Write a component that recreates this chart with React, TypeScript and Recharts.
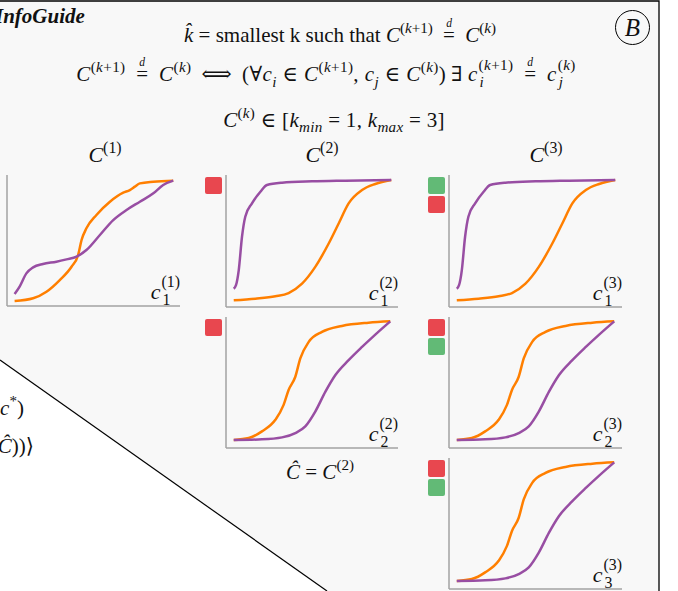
import React from 'react';
import { LineChart, Line, XAxis, YAxis } from 'recharts';

// positions along each axis are on a 0-100 scale (x: value, y: cumulative share)
const c1OrangeX = [4.4, 15.1, 22.8, 30.5, 37.3, 41.1, 43.1, 45.9, 51.7, 59.5, 67.2, 71.0, 73.9, 76.8, 84.6, 96.1];
const c1OrangeY = [3.8, 5.9, 10.9, 19.8, 30.0, 38.9, 50.4, 59.3, 69.5, 79.6, 86.5, 88.5, 91.1, 93.6, 94.9, 95.7];
const c1PurpleX = [4.4, 7.3, 11.2, 15.1, 20.8, 28.6, 34.4, 40.2, 45.9, 53.7, 61.4, 69.1, 76.8, 84.6, 90.3, 96.1];
const c1PurpleY = [9.2, 14.8, 24.9, 29.5, 32.1, 33.8, 35.6, 37.7, 42.7, 54.2, 65.6, 73.3, 79.6, 86.0, 92.4, 95.7];

// first cluster when k >= 2: far apart
const splitOrangeX = [4.5, 17.1, 28.7, 36.4, 44.2, 51.9, 59.7, 65.5, 71.3, 79.1, 86.8, 96.1];
const splitOrangeY = [5.1, 6.3, 8.1, 10.6, 17.7, 30.4, 48.1, 63.3, 78.5, 88.6, 93.2, 96.2];
const splitPurpleX = [4.5, 5.8, 7.4, 9.3, 11.2, 15.1, 20.0, 23.8, 32.6, 50.0, 69.4, 96.1];
const splitPurpleY = [13.9, 16.5, 27.8, 53.2, 68.4, 78.5, 87.3, 92.4, 94.2, 95.2, 95.7, 96.2];

// remaining clusters: closer pair
const pairOrangeX = [4.5, 13.2, 20.9, 28.7, 33.5, 36.4, 40.3, 43.2, 48.1, 55.8, 67.4, 82.9, 95.5];
const pairOrangeY = [6.1, 7.6, 12.7, 21.5, 32.9, 44.3, 54.4, 68.4, 81.0, 88.6, 93.2, 95.7, 96.7];
const pairPurpleX = [4.5, 20.9, 32.6, 40.3, 46.1, 51.9, 57.8, 63.6, 71.3, 79.1, 86.8, 95.5];
const pairPurpleY = [6.1, 6.6, 8.1, 11.4, 16.5, 27.8, 43.0, 55.7, 67.1, 77.2, 86.6, 96.7];

const clusterTitles = ['1', '2', '3'];

const ORANGE = '#ff7f00';
const PURPLE = '#984ea3';
const RED = '#e8474f';
const GREEN = '#62ba76';
const AXIS = '#a3a3a3';
const PANEL = '#f8f8f8';
const FONT = '"Liberation Serif", "DejaVu Serif", serif';

const pts = (xs: number[], ys: number[]) => xs.map((x, i) => ({ x, y: ys[i] }));

const panels = [
  { left: 7, right: 180, top: 175, bottom: 306, o: pts(c1OrangeX, c1OrangeY), p: pts(c1PurpleX, c1PurpleY), sub: '1', sup: '1', marks: [] as string[] },
  { left: 226, right: 398, top: 175, bottom: 307, o: pts(splitOrangeX, splitOrangeY), p: pts(splitPurpleX, splitPurpleY), sub: '1', sup: '2', marks: [RED] },
  { left: 226, right: 398, top: 317, bottom: 448, o: pts(pairOrangeX, pairOrangeY), p: pts(pairPurpleX, pairPurpleY), sub: '2', sup: '2', marks: [RED] },
  { left: 449, right: 622, top: 175, bottom: 307, o: pts(splitOrangeX, splitOrangeY), p: pts(splitPurpleX, splitPurpleY), sub: '1', sup: '3', marks: [GREEN, RED] },
  { left: 449, right: 622, top: 317, bottom: 448, o: pts(pairOrangeX, pairOrangeY), p: pts(pairPurpleX, pairPurpleY), sub: '2', sup: '3', marks: [RED, GREEN] },
  { left: 449, right: 622, top: 458, bottom: 589, o: pts(pairOrangeX, pairOrangeY), p: pts(pairPurpleX, pairPurpleY), sub: '3', sup: '3', marks: [RED, GREEN] },
];

const Sup = ({ children }: { children: React.ReactNode }) => (
  <sup style={{ fontSize: '0.72em', verticalAlign: '0.6em', lineHeight: 0 }}>{children}</sup>
);
const Sub = ({ children }: { children: React.ReactNode }) => (
  <sub style={{ fontSize: '0.72em', verticalAlign: '-0.35em', lineHeight: 0 }}>{children}</sub>
);
const I = ({ children }: { children: React.ReactNode }) => <i>{children}</i>;

// superscript stacked over subscript, as in c_i^{(k)}
function SupSub({ sup, sub }: { sup: React.ReactNode; sub: React.ReactNode }) {
  return (
    <span style={{ display: 'inline-flex', flexDirection: 'column', alignItems: 'flex-start', fontSize: '0.72em', lineHeight: 1.15, verticalAlign: '0.75em', marginLeft: 1 }}>
      <span>{sup}</span>
      <span style={{ marginLeft: 1 }}>{sub}</span>
    </span>
  );
}

function EqD() {
  return (
    <span style={{ position: 'relative', display: 'inline-block', margin: '0 5px' }}>
      =
      <span style={{ position: 'absolute', left: '50%', top: '-0.55em', transform: 'translateX(-50%)', fontSize: '0.55em', fontStyle: 'italic' }}>d</span>
    </span>
  );
}

function Cdf({ panel }: { panel: (typeof panels)[number] }) {
  const w = panel.right - panel.left;
  const h = panel.bottom - panel.top;
  const axisLine = { stroke: AXIS, strokeWidth: 1.5 };
  return (
    <>
      <div style={{ position: 'absolute', left: panel.left - 2, top: panel.top - 2 }}>
        <LineChart width={w + 4} height={h + 4} margin={{ top: 2, right: 2, bottom: 1, left: 1 }}>
          <XAxis type="number" dataKey="x" domain={[0, 100]} height={1} tick={false} tickLine={false} axisLine={axisLine} />
          <YAxis type="number" dataKey="y" domain={[0, 100]} width={1} tick={false} tickLine={false} axisLine={axisLine} />
          <Line data={panel.o} dataKey="y" type="monotone" stroke={ORANGE} strokeWidth={2.5} dot={false} isAnimationActive={false} />
          <Line data={panel.p} dataKey="y" type="monotone" stroke={PURPLE} strokeWidth={2.5} dot={false} isAnimationActive={false} />
        </LineChart>
      </div>
      <div style={{ position: 'absolute', left: panel.right - 50, width: 50, top: panel.bottom - 33, textAlign: 'right', fontSize: 22, lineHeight: '24px', whiteSpace: 'nowrap' }}>
        <I>c</I>
        <SupSub sup={`(${panel.sup})`} sub={panel.sub} />
      </div>
      {panel.marks.map((c, i) => (
        <div key={i} style={{ position: 'absolute', left: panel.left - 21, top: panel.top + 2 + i * 19, width: 17, height: 17, borderRadius: 2, background: c }} />
      ))}
    </>
  );
}

export default function App() {
  return (
    <div style={{ position: 'absolute', left: 0, top: 0, width: 678, height: 591, overflow: 'hidden', background: '#fff', fontFamily: FONT, color: '#111' }}>
      <svg width={678} height={591} style={{ position: 'absolute', left: 0, top: 0 }}>
        <polygon points="0,1 659,1 659,591 327,591 0,360" fill={PANEL} />
        <polyline points="0,1 659,1 659,591" fill="none" stroke="#000" strokeWidth={1.3} />
        <line x1={0} y1={360} x2={327} y2={591} stroke="#000" strokeWidth={1.2} />
      </svg>

      <div style={{ position: 'absolute', left: -5, top: 4, fontSize: 21, fontWeight: 'bold', fontStyle: 'italic' }}>InfoGuide</div>

      <div style={{ position: 'absolute', left: 615, top: 10, width: 33, height: 33, border: '1.2px solid #000', borderRadius: '50%', textAlign: 'center', lineHeight: '33px', fontSize: 25, fontStyle: 'italic' }}>B</div>

      <div style={{ position: 'absolute', left: 0, width: 680, top: 23, textAlign: 'center', fontSize: 21, whiteSpace: 'nowrap' }}>
        <I>k&#770;</I> = smallest k such that <I>C</I><Sup>(<I>k</I>+1)</Sup> <EqD /> <I>C</I><Sup>(<I>k</I>)</Sup>
      </div>
      <div style={{ position: 'absolute', left: 0, width: 652, top: 57, textAlign: 'center', fontSize: 21, letterSpacing: 0.4, whiteSpace: 'nowrap' }}>
        <I>C</I><Sup>(<I>k</I>+1)</Sup> <EqD /> <I>C</I><Sup>(<I>k</I>)</Sup>
        <span style={{ margin: '0 10px' }}>⟺</span>
        (∀<I>c</I><Sub><I>i</I></Sub> ∈ <I>C</I><Sup>(<I>k</I>+1)</Sup>, <I>c</I><Sub><I>j</I></Sub> ∈ <I>C</I><Sup>(<I>k</I>)</Sup>)
        <span style={{ margin: '0 5px' }}>∃</span>
        <I>c</I>
        <SupSub sup={<>(<I>k</I>+1)</>} sub={<I>i</I>} /> <EqD /> <I>c</I>
        <SupSub sup={<>(<I>k</I>)</>} sub={<I>j</I>} />
      </div>
      <div style={{ position: 'absolute', left: 0, width: 668, top: 108, textAlign: 'center', fontSize: 21, letterSpacing: 0.3, whiteSpace: 'nowrap' }}>
        <I>C</I><Sup>(<I>k</I>)</Sup> ∈ [<I>k</I><Sub><I>min</I></Sub> = 1, <I>k</I><Sub><I>max</I></Sub> = 3]
      </div>

      {clusterTitles.map((t, i) => (
        <div key={t} style={{ position: 'absolute', left: [105, 322, 546][i] - 40, width: 80, top: 142, textAlign: 'center', fontSize: 22, whiteSpace: 'nowrap' }}>
          <I>C</I><Sup>({t})</Sup>
        </div>
      ))}

      {panels.map((p, i) => (
        <Cdf key={i} panel={p} />
      ))}

      <div style={{ position: 'absolute', left: 250, width: 140, top: 460, textAlign: 'center', fontSize: 21, whiteSpace: 'nowrap' }}>
        <I>Ĉ</I> = <I>C</I><Sup>(2)</Sup>
      </div>

      <div style={{ position: 'absolute', left: -60, width: 84, top: 396, textAlign: 'right', fontSize: 21, whiteSpace: 'nowrap' }}>
        (<I>c</I><Sup>*</Sup>)
      </div>
      <div style={{ position: 'absolute', left: -60, width: 94, top: 434, textAlign: 'right', fontSize: 21, whiteSpace: 'nowrap' }}>
        (<I>Ĉ</I>))⟩
      </div>
    </div>
  );
}
